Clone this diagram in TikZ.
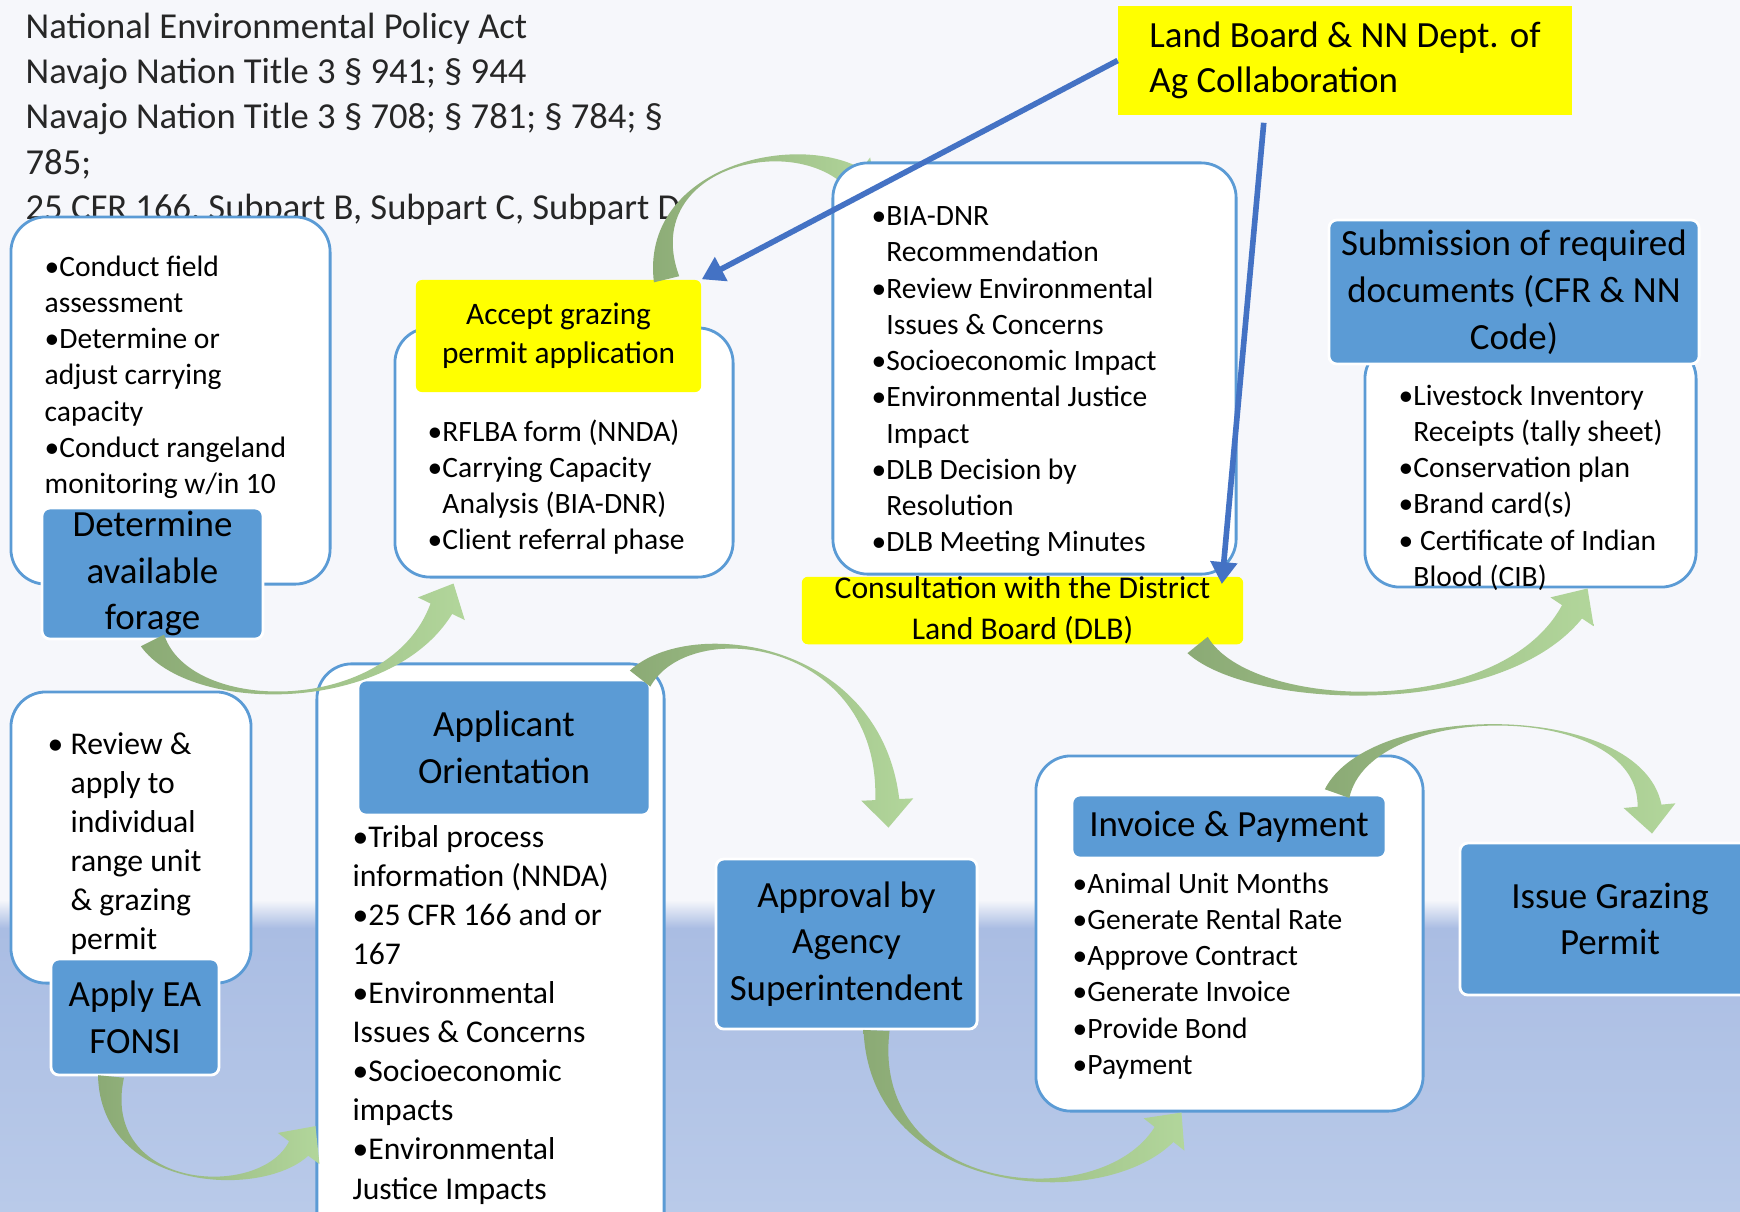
\documentclass[tikz,border=0pt]{standalone}
\usepackage{fontspec}
\setmainfont{Carlito}
\usetikzlibrary{arrows.meta, calc}
\definecolor{bgtop}{HTML}{F6F7FB}
\definecolor{bgband}{HTML}{AABDE3}
\definecolor{bgbottom}{HTML}{B9CAE9}
\definecolor{cardblue}{HTML}{5B9BD5}
\definecolor{boxblue}{HTML}{5B9BD5}
\definecolor{boxyellow}{HTML}{FFFF00}
\definecolor{flowdark}{HTML}{8BAA75}
\definecolor{flowlight}{HTML}{B2D69B}
\definecolor{linkblue}{HTML}{4472C4}
\tikzstyle{card} = [rectangle, rounded corners=0.35cm, draw=cardblue, line width=0.8pt, fill=white, inner sep=0pt]
\tikzstyle{bluebox} = [rectangle, rounded corners=0.08cm, draw=white, line width=0.8pt, fill=boxblue, inner sep=0pt, align=center, font=\fontsize{10.5}{13.3}\selectfont]
\tikzstyle{yellowbox} = [rectangle, rounded corners=0.06cm, fill=boxyellow, inner sep=0pt, align=center]
\tikzstyle{bullets} = [anchor=north west, inner sep=0pt, align=left, font=\fontsize{8.4}{10.3}\selectfont]
\tikzstyle{bigbullets} = [bullets, font=\fontsize{9}{11.1}\selectfont]
\tikzstyle{flowshade} = [left color=flowdark, right color=flowlight]
\tikzstyle{bluearrow} = [line width=1.6pt, draw=linkblue, -{Triangle[width=0.26cm, length=0.22cm]}]
\newcommand{\bulletgap}{\hphantom{•}}
% curved block arrow: tail, control 1, control 2, tip
\newcommand{\flowarrow}[4]{
  \coordinate (flowtail) at (#1);
  \coordinate (flowtip) at (#4);
  \coordinate (flowhead) at ($(flowtip)!0.28cm!(#3)$);
  \shade[flowshade] ($(flowtail)!0.13cm!90:(#2)$) .. controls (#2) and (#3) .. ($(flowhead)!0.12cm!-90:(#3)$)
    -- ($(flowhead)!0.26cm!-90:(#3)$) -- (flowtip) -- ($(flowhead)!0.26cm!90:(#3)$)
    -- ($(flowhead)!0.12cm!90:(#3)$) .. controls (#3) and (#2) .. ($(flowtail)!0.13cm!-90:(#2)$) -- cycle;
}
\begin{document}
\begin{tikzpicture}[x=0.01cm, y=-0.01cm]
\clip (0,0) rectangle (1740,1211);
\fill[bgtop] (0,0) rectangle (1740,1211);
\shade[top color=bgtop, bottom color=bgband] (0,900) rectangle (1740,928);
\shade[top color=bgband, bottom color=bgbottom] (0,928) rectangle (1740,1211);

\node[anchor=north west, inner sep=0pt, align=left, text=black!85, font=\fontsize{10.4}{12.9}\selectfont] (acts) at (25,12) {National Environmental Policy Act\\Navajo Nation Title 3 § 941; § 944\\Navajo Nation Title 3 § 708; § 781; § 784; §\\785;\\25 CFR 166, Subpart B, Subpart C, Subpart D};

% white cards
\node[card, minimum width=3.19cm, minimum height=3.67cm] (fieldcard) at (170.5,400.5) {};
\node[card, minimum width=3.38cm, minimum height=2.49cm] (acceptcard) at (564,452.5) {};
\node[yellowbox, minimum width=2.85cm, minimum height=1.12cm, font=\fontsize{8.9}{11.1}\selectfont] (accept) at (558.5,336) {Accept grazing\\permit application};
\flowarrow{[xshift=1.08cm]accept.north}{640,170}{790,130}{877,195}
\node[card, minimum width=4.03cm, minimum height=4.11cm] (dlbcard) at (1034.5,368.5) {};
\node[card, minimum width=3.31cm, minimum height=2.43cm] (docscard) at (1530.5,465.5) {};
\node[card, minimum width=2.40cm, minimum height=2.91cm] (rangecard) at (131,837.5) {};
\node[card, minimum width=3.47cm, minimum height=6.00cm] (orientcard) at (490.5,964) {};
\node[card, minimum width=3.87cm, minimum height=3.55cm] (invoicecard) at (1229.5,933.5) {};

% step boxes
\node[bluebox, minimum width=2.21cm, minimum height=1.31cm] (forage) at (152.5,573.5) {Determine\\available\\forage};
\node[yellowbox, minimum width=4.41cm, minimum height=0.67cm, font=\fontsize{9}{11.7}\selectfont] (consult) at (1022.5,610.5) {Consultation with the District\\Land Board (DLB)};
\node[yellowbox, rounded corners=0pt, minimum width=4.53cm, minimum height=1.09cm, align=left, font=\fontsize{10.5}{12.9}\selectfont] (landboard) at (1345,60.5) {Land Board \& NN Dept. of\\Ag Collaboration};
\node[bluebox, minimum width=3.70cm, minimum height=1.44cm] (submit) at (1514,292) {Submission of required\\documents (CFR \& NN\\Code)};
\node[bluebox, minimum width=1.68cm, minimum height=1.16cm] (applyea) at (135,1017) {Apply EA\\FONSI};
\node[bluebox, minimum width=2.92cm, minimum height=1.35cm] (applicant) at (504,747.5) {Applicant\\Orientation};
\node[bluebox, minimum width=2.61cm, minimum height=1.70cm] (approval) at (846.5,944) {Approval by\\Agency\\Superintendent};
\node[bluebox, minimum width=3.14cm, minimum height=0.63cm] (invoice) at (1229,826.5) {Invoice \& Payment};
\node[bluebox, minimum width=3.00cm, minimum height=1.52cm] (issue) at (1610,919) {Issue Grazing\\Permit};

% bullet lists
\node[bullets] (fieldlist) at (44,255) {•Conduct field\\assessment\\•Determine or\\adjust carrying\\capacity\\•Conduct rangeland\\monitoring w/in 10};
\node[bullets] (acceptlist) at (427,419) {•RFLBA form (NNDA)\\•Carrying Capacity\\\bulletgap Analysis (BIA-DNR)\\•Client referral phase};
\node[bullets] (dlblist) at (871,206) {•BIA-DNR\\\bulletgap Recommendation\\•Review Environmental\\\bulletgap Issues \& Concerns\\•Socioeconomic Impact\\•Environmental Justice\\\bulletgap Impact\\•DLB Decision by\\\bulletgap Resolution\\•DLB Meeting Minutes};
\node[bullets] (docslist) at (1398,384) {•Livestock Inventory\\\bulletgap Receipts (tally sheet)\\•Conservation plan\\•Brand card(s)\\• Certificate of Indian\\\bulletgap Blood (CIB)};
\node[bigbullets] (rangelist) at (47,732) {•\ Review \&\\\bulletgap\ apply to\\\bulletgap\ individual\\\bulletgap\ range unit\\\bulletgap\ \& grazing\\\bulletgap\ permit};
\node[bigbullets] (orientlist) at (352,825) {•Tribal process\\information (NNDA)\\•25 CFR 166 and or\\167\\•Environmental\\Issues \& Concerns\\•Socioeconomic\\impacts\\•Environmental\\Justice Impacts};
\node[bullets] (invoicelist) at (1072,872) {•Animal Unit Months\\•Generate Rental Rate\\•Approve Contract\\•Generate Invoice\\•Provide Bond\\•Payment};

% process flow
\flowarrow{forage.south}{190,715}{390,715}{[xshift=0.6cm,yshift=-0.05cm]acceptcard.south west}
\flowarrow{[xshift=1.75cm]consult.south}{1250,710}{1500,720}{[xshift=0.57cm]docscard.south}
\flowarrow{[xshift=-0.24cm]applyea.south}{100,1190}{260,1200}{[yshift=-1.62cm]orientcard.west}
\flowarrow{[xshift=1.36cm]applicant.north}{690,615}{880,640}{[xshift=0.42cm,yshift=0.3cm]approval.north}
\flowarrow{[xshift=0.3cm]approval.south}{870,1195}{1100,1215}{[xshift=-0.48cm]invoicecard.south}
\flowarrow{[xshift=1.08cm]invoice.north}{1370,700}{1640,700}{[xshift=0.42cm,yshift=0.08cm]issue.north}

\draw[bluearrow] (landboard.west) -- (accept.north east);
\draw[bluearrow] ([xshift=1.46cm,yshift=-0.07cm]landboard.south west) -- ([xshift=-0.22cm,yshift=-0.08cm]consult.north east);
\end{tikzpicture}
\end{document}
